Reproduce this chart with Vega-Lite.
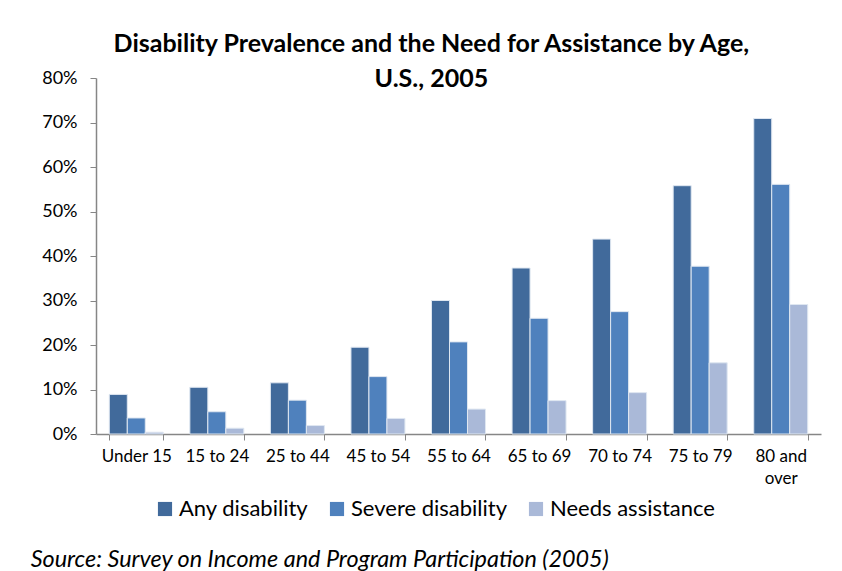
{
  "$schema": "https://vega.github.io/schema/vega-lite/v6.json",
  "background": "white",
  "padding": {"left": 30, "top": 32, "right": 10, "bottom": 5},
  "title": {
    "text": "Source: Survey on Income and Program Participation (2005)",
    "orient": "bottom", "anchor": "start", "frame": "bounds",
    "font": "Lato", "fontSize": 23.4, "fontStyle": "italic", "fontWeight": "normal",
    "color": "#000000", "offset": 29, "dx": -11
  },
  "data": {"values": [
    {"age": "Under 15", "measure": "Any disability", "value": 8.9},
    {"age": "Under 15", "measure": "Severe disability", "value": 3.6},
    {"age": "Under 15", "measure": "Needs assistance", "value": 0.4},
    {"age": "15 to 24", "measure": "Any disability", "value": 10.5},
    {"age": "15 to 24", "measure": "Severe disability", "value": 5.0},
    {"age": "15 to 24", "measure": "Needs assistance", "value": 1.3},
    {"age": "25 to 44", "measure": "Any disability", "value": 11.5},
    {"age": "25 to 44", "measure": "Severe disability", "value": 7.6},
    {"age": "25 to 44", "measure": "Needs assistance", "value": 1.9},
    {"age": "45 to 54", "measure": "Any disability", "value": 19.5},
    {"age": "45 to 54", "measure": "Severe disability", "value": 12.9},
    {"age": "45 to 54", "measure": "Needs assistance", "value": 3.5},
    {"age": "55 to 64", "measure": "Any disability", "value": 30.0},
    {"age": "55 to 64", "measure": "Severe disability", "value": 20.7},
    {"age": "55 to 64", "measure": "Needs assistance", "value": 5.6},
    {"age": "65 to 69", "measure": "Any disability", "value": 37.3},
    {"age": "65 to 69", "measure": "Severe disability", "value": 26.0},
    {"age": "65 to 69", "measure": "Needs assistance", "value": 7.5},
    {"age": "70 to 74", "measure": "Any disability", "value": 43.8},
    {"age": "70 to 74", "measure": "Severe disability", "value": 27.5},
    {"age": "70 to 74", "measure": "Needs assistance", "value": 9.3},
    {"age": "75 to 79", "measure": "Any disability", "value": 55.8},
    {"age": "75 to 79", "measure": "Severe disability", "value": 37.7},
    {"age": "75 to 79", "measure": "Needs assistance", "value": 16.0},
    {"age": "80 and over", "measure": "Any disability", "value": 70.9},
    {"age": "80 and over", "measure": "Severe disability", "value": 56.1},
    {"age": "80 and over", "measure": "Needs assistance", "value": 29.1}
  ]},
  "resolve": {"legend": {"color": "independent"}},
  "vconcat": [{
    "width": 725,
    "height": 356,
    "title": {
      "text": ["Disability Prevalence and the Need for Assistance by Age,", "U.S.,  2005"],
      "anchor": "middle", "frame": "bounds",
      "font": "Lato", "fontSize": 25, "fontWeight": "bold", "color": "#000000",
      "lineHeight": 35, "offset": -23
    },
    "mark": {"type": "bar", "stroke": "#dfe7f1", "strokeWidth": 1},
    "encoding": {
      "x": {
        "field": "age", "type": "nominal",
        "sort": ["Under 15", "15 to 24", "25 to 44", "45 to 54", "55 to 64", "65 to 69", "70 to 74", "75 to 79", "80 and over"],
        "scale": {"paddingInner": 0.33, "paddingOuter": 0.165},
        "axis": {
          "title": null, "labelAngle": 0, "tickBand": "extent", "tickSize": 6,
          "domainColor": "#868686", "tickColor": "#868686", "domainWidth": 1.5,
          "labelFont": "Lato", "labelFontSize": 17, "labelColor": "#000000",
          "labelPadding": 8, "labelLineHeight": 22,
          "labelExpr": "datum.value == '80 and over' ? ['80 and', 'over'] : datum.value"
        }
      },
      "xOffset": {
        "field": "measure",
        "sort": ["Any disability", "Severe disability", "Needs assistance"],
        "scale": {"paddingInner": 0, "paddingOuter": 0}
      },
      "y": {
        "field": "value", "type": "quantitative",
        "scale": {"domain": [0, 80]},
        "axis": {
          "title": null, "values": [0, 10, 20, 30, 40, 50, 60, 70, 80], "grid": false,
          "labelExpr": "datum.value + '%'", "tickSize": 6,
          "domainColor": "#868686", "tickColor": "#868686", "domainWidth": 1.5,
          "labelFont": "Lato", "labelFontSize": 18, "labelColor": "#000000", "labelPadding": 13
        }
      },
      "color": {
        "field": "measure", "type": "nominal",
        "sort": ["Any disability", "Severe disability", "Needs assistance"],
        "scale": {
          "domain": ["Any disability", "Severe disability", "Needs assistance"],
          "range": ["#416A9B", "#4F81BD", "#AAB9D8"]
        },
        "legend": {
          "title": null, "orient": "none", "direction": "horizontal",
          "legendX": 58, "legendY": 420,
          "symbolType": "square", "symbolSize": 200, "symbolStrokeWidth": 0,
          "labelFont": "Lato", "labelFontSize": 22, "labelColor": "#000000",
          "labelLimit": 300, "columnPadding": 17, "labelOffset": 3
        }
      }
    }
  }],
  "config": {"view": {"stroke": null}, "font": "Lato"}
}
